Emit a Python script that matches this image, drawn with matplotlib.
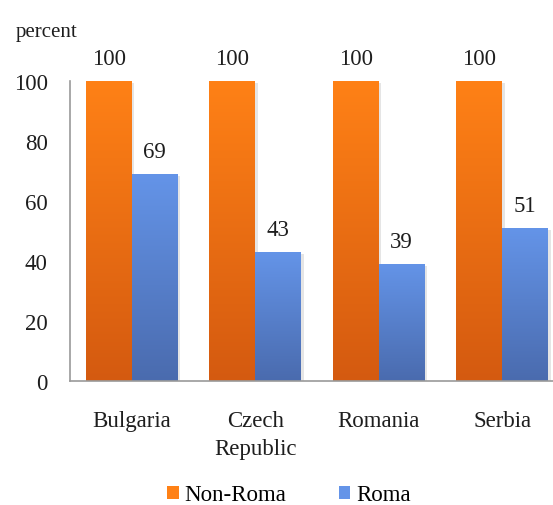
import numpy as np
import matplotlib
matplotlib.use("Agg")
import matplotlib.pyplot as plt
from matplotlib.colors import LinearSegmentedColormap
from matplotlib.patches import Patch, Rectangle

# --- Data --------------------------------------------------------------------
COUNTRIES = ["Bulgaria", "Czech\nRepublic", "Romania", "Serbia"]
NON_ROMA = [100, 100, 100, 100]
ROMA = [69, 43, 39, 51]
SERIES = ["Non-Roma", "Roma"]
Y_TICKS = [0, 20, 40, 60, 80, 100]
# -----------------------------------------------------------------------------

FONT = "Liberation Serif"
FS = 16.5
TXT = "#1e1e1e"
plt.rcParams["font.family"] = FONT

# top / bottom colours of the vertical gradient
GRAD = {
    "Non-Roma": ("#FF8116", "#D45A10"),
    "Roma": ("#6494E8", "#4A6BAE"),
}
BAR_W = 0.372


def gradient_bar(ax, x0, width, height, top, bottom):
    # soft drop shadow
    ax.add_patch(Rectangle((x0 + 0.02, -0.8), width, height, color="black",
                           alpha=0.10, lw=0, zorder=1))
    rect = Rectangle((x0, 0), width, height, facecolor="none", lw=0, zorder=2)
    ax.add_patch(rect)
    cmap = LinearSegmentedColormap.from_list("g", [bottom, top])
    grad = np.linspace(0, 1, 256).reshape(-1, 1)
    im = ax.imshow(grad, cmap=cmap, aspect="auto", origin="lower",
                   extent=[x0, x0 + width, 0, height], zorder=2)
    im.set_clip_path(rect)


fig = plt.figure(figsize=(5.53, 5.06), dpi=100)
ax = fig.add_axes([70 / 553, 124 / 506, 494 / 553, 300 / 506])

x = np.arange(len(COUNTRIES))
for i in x:
    for j, (name, vals) in enumerate(zip(SERIES, [NON_ROMA, ROMA])):
        x0 = i - BAR_W + j * BAR_W
        gradient_bar(ax, x0, BAR_W, vals[i], *GRAD[name])
        ax.text(x0 + BAR_W / 2, vals[i] + 4, f"{vals[i]}", ha="center",
                va="bottom", fontsize=FS, color=TXT)

ax.set_xlim(-0.5, len(COUNTRIES) - 0.5)
ax.set_ylim(0, 100)
ax.set_yticks(Y_TICKS)
ax.set_yticklabels([str(t) for t in Y_TICKS], fontsize=FS, color=TXT)
ax.set_xticks(x)
ax.set_xticklabels(COUNTRIES, fontsize=FS, color=TXT, linespacing=1.4)
ax.tick_params(axis="y", length=0, pad=16)
ax.tick_params(axis="x", length=0, pad=21)

for side in ["top", "right"]:
    ax.spines[side].set_visible(False)
for side in ["left", "bottom"]:
    ax.spines[side].set_color("#9a9a9a")
    ax.spines[side].set_linewidth(1.2)

fig.text(16 / 553, 1 - 33 / 506, "percent", ha="left", va="center",
         fontsize=15, color=TXT)

handles = [Patch(facecolor=GRAD[s][0], label=s) for s in SERIES]
fig.legend(handles=handles, loc="center", bbox_to_anchor=(289 / 553, 1 - 496 / 506),
           ncol=2, frameon=False, fontsize=FS, handlelength=0.5, handleheight=0.5,
           handletextpad=0.25, columnspacing=2.3)

fig.savefig("out.png", dpi=100)
